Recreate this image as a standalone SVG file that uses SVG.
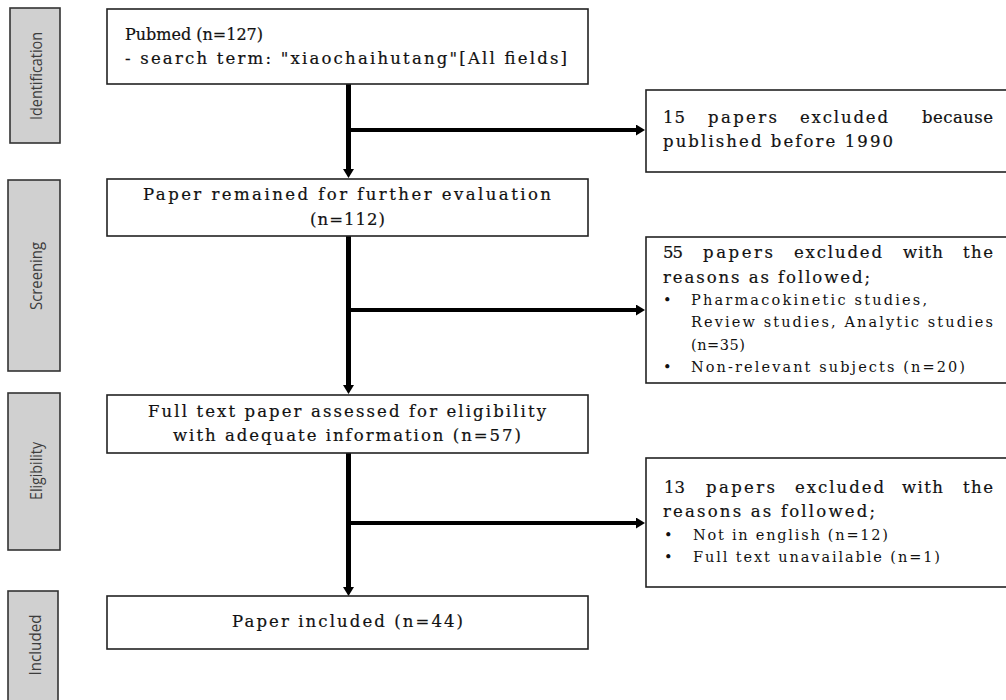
<svg xmlns="http://www.w3.org/2000/svg" width="1006" height="700" viewBox="0 0 1006 700">
<style>
.bg{fill:#ffffff}
.side{fill:#d0d0d0;stroke:#333;stroke-width:1.6}
.sidet{font-family:"Open Sans","Noto Sans",sans-serif;font-size:17px;fill:#3c3c3c;text-anchor:middle}
.box{fill:#ffffff;stroke:#222;stroke-width:1.6}
.t{font-family:"DejaVu Serif","Liberation Serif",serif;font-size:16.5px;fill:#111;stroke:#111;stroke-width:0.2}
.s{font-family:"DejaVu Serif","Liberation Serif",serif;font-size:14.5px;fill:#111}
.v{stroke:#000;stroke-width:5;fill:none}
.h{stroke:#000;stroke-width:4;fill:none}
</style>
<defs>
<marker id="ah" markerUnits="userSpaceOnUse" markerWidth="10" markerHeight="11" refX="1" refY="5.5" orient="auto" viewBox="0 0 10 11">
<path d="M0,0 L9,5.5 L0,11 Z" fill="#000"/>
</marker>
</defs>
<rect class="bg" x="0" y="0" width="1006" height="700"/>

<g id="phase-identification">
<rect class="side" x="10" y="8" width="50" height="135"/>
<text class="sidet" transform="translate(42,76) rotate(-90)" textLength="88" lengthAdjust="spacingAndGlyphs">Identification</text>
</g>
<g id="phase-screening">
<rect class="side" x="8" y="180" width="52" height="191"/>
<text class="sidet" transform="translate(42,276) rotate(-90)" textLength="68" lengthAdjust="spacingAndGlyphs">Screening</text>
</g>
<g id="phase-eligibility">
<rect class="side" x="8" y="393" width="52" height="157"/>
<text class="sidet" transform="translate(42,471) rotate(-90)" textLength="58" lengthAdjust="spacingAndGlyphs">Eligibility</text>
</g>
<g id="phase-included">
<rect class="side" x="8" y="591" width="50" height="120"/>
<text class="sidet" transform="translate(41,645) rotate(-90)" textLength="61" lengthAdjust="spacingAndGlyphs">Included</text>
</g>

<g id="connectors">
<line class="v" x1="348.5" y1="84" x2="348.5" y2="170" marker-end="url(#ah)"/>
<line class="h" x1="348.5" y1="130" x2="637" y2="130" marker-end="url(#ah)"/>
<line class="v" x1="348.5" y1="236" x2="348.5" y2="386" marker-end="url(#ah)"/>
<line class="h" x1="348.5" y1="310" x2="637" y2="310" marker-end="url(#ah)"/>
<line class="v" x1="348.5" y1="453" x2="348.5" y2="588" marker-end="url(#ah)"/>
<line class="h" x1="348.5" y1="523" x2="637" y2="523" marker-end="url(#ah)"/>
</g>

<g id="node-pubmed">
<rect class="box" x="107" y="9" width="481" height="75"/>
<text class="t" x="125" y="40" style="font-size:16px">Pubmed (n=127)</text>
<text class="t" x="125" y="64" textLength="442" lengthAdjust="spacing">- search term: "xiaochaihutang"[All fields]</text>
</g>

<g id="node-excluded-15">
<rect class="box" x="646" y="90" width="380" height="82"/>
<text class="t" x="663" y="123" textLength="22" lengthAdjust="spacing">15</text>
<text class="t" x="708" y="123" textLength="69" lengthAdjust="spacing">papers</text>
<text class="t" x="800" y="123" textLength="88" lengthAdjust="spacing">excluded</text>
<text class="t" x="922" y="123" textLength="71" lengthAdjust="spacing">because</text>
<text class="t" x="663" y="147" textLength="230" lengthAdjust="spacing">published before 1990</text>
</g>

<g id="node-remained">
<rect class="box" x="107" y="179" width="481" height="57"/>
<text class="t" x="143" y="200" textLength="408" lengthAdjust="spacing">Paper remained for further evaluation</text>
<text class="t" x="310" y="225" textLength="75" lengthAdjust="spacing">(n=112)</text>
</g>

<g id="node-excluded-55">
<rect class="box" x="646" y="237" width="380" height="146"/>
<text class="t" x="663" y="258" textLength="20" lengthAdjust="spacing">55</text>
<text class="t" x="703" y="258" textLength="70" lengthAdjust="spacing">papers</text>
<text class="t" x="794" y="258" textLength="88" lengthAdjust="spacing">excluded</text>
<text class="t" x="903" y="258" textLength="40" lengthAdjust="spacing">with</text>
<text class="t" x="963" y="258" textLength="30" lengthAdjust="spacing">the</text>
<text class="t" x="663" y="283" textLength="207" lengthAdjust="spacing">reasons as followed;</text>
<text class="s" x="663" y="305">•</text>
<text class="s" x="691" y="305" textLength="236" lengthAdjust="spacing">Pharmacokinetic studies,</text>
<text class="s" x="691" y="327" textLength="302" lengthAdjust="spacing">Review studies, Analytic studies</text>
<text class="s" x="691" y="350" textLength="54" lengthAdjust="spacing">(n=35)</text>
<text class="s" x="663" y="372">•</text>
<text class="s" x="691" y="372" textLength="274" lengthAdjust="spacing">Non-relevant subjects (n=20)</text>
</g>

<g id="node-fulltext">
<rect class="box" x="107" y="395" width="481" height="58"/>
<text class="t" x="148" y="417" textLength="398" lengthAdjust="spacing">Full text paper assessed for eligibility</text>
<text class="t" x="173" y="441" textLength="348" lengthAdjust="spacing">with adequate information (n=57)</text>
</g>

<g id="node-excluded-13">
<rect class="box" x="646" y="458" width="380" height="129"/>
<text class="t" x="664" y="493" textLength="21" lengthAdjust="spacing">13</text>
<text class="t" x="706" y="493" textLength="69" lengthAdjust="spacing">papers</text>
<text class="t" x="795" y="493" textLength="89" lengthAdjust="spacing">excluded</text>
<text class="t" x="902" y="493" textLength="41" lengthAdjust="spacing">with</text>
<text class="t" x="963" y="493" textLength="30" lengthAdjust="spacing">the</text>
<text class="t" x="663" y="517" textLength="212" lengthAdjust="spacing">reasons as followed;</text>
<text class="s" x="664" y="540">•</text>
<text class="s" x="693" y="540" textLength="195" lengthAdjust="spacing">Not in english (n=12)</text>
<text class="s" x="664" y="562">•</text>
<text class="s" x="693" y="562" textLength="247" lengthAdjust="spacing">Full text unavailable (n=1)</text>
</g>

<g id="node-included">
<rect class="box" x="107" y="596" width="481" height="53"/>
<text class="t" x="232" y="627" textLength="231" lengthAdjust="spacing">Paper included (n=44)</text>
</g>
</svg>
